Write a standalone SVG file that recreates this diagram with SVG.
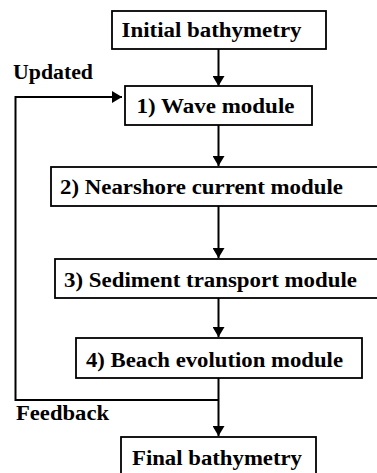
<svg xmlns="http://www.w3.org/2000/svg" width="377" height="473" viewBox="0 0 377 473">
<style>
  .box { fill: #fff; stroke: #000; stroke-width: 1.8; }
  .t { font-family: "Liberation Serif", "Times New Roman", serif; font-weight: bold; font-size: 20px; fill: #000; }
  .c { fill: none; stroke: #000; stroke-width: 2; }
</style>
<defs>
  <marker id="ah" markerWidth="10" markerHeight="12" refX="10" refY="6" orient="auto" markerUnits="userSpaceOnUse">
    <path d="M0,0 L10,6 L0,12 Z" fill="#000"/>
  </marker>
</defs>
<g id="connectors">
  <line class="c" x1="218.5" y1="49" x2="218.5" y2="86" marker-end="url(#ah)"/>
  <line class="c" x1="218.5" y1="125" x2="218.5" y2="166" marker-end="url(#ah)"/>
  <line class="c" x1="218.5" y1="206" x2="218.5" y2="258" marker-end="url(#ah)"/>
  <line class="c" x1="218.5" y1="298" x2="218.5" y2="337" marker-end="url(#ah)"/>
  <line class="c" x1="218.5" y1="378" x2="218.5" y2="436" marker-end="url(#ah)"/>
  <polyline class="c" points="218.5,400 15.5,400 15.5,97 122,97" marker-end="url(#ah)"/>
</g>
<g id="initial">
  <rect class="box" x="112" y="11" width="214" height="38"/>
  <text class="t" x="121.5" y="37" textLength="180" lengthAdjust="spacingAndGlyphs">Initial bathymetry</text>
</g>
<g id="updated-label">
  <text class="t" x="13" y="79" textLength="80" lengthAdjust="spacingAndGlyphs">Updated</text>
</g>
<g id="wave">
  <rect class="box" x="125" y="86" width="187" height="39"/>
  <text class="t" x="136.5" y="113" textLength="158" lengthAdjust="spacingAndGlyphs">1) Wave module</text>
</g>
<g id="nearshore">
  <rect class="box" x="51" y="167" width="340" height="39"/>
  <text class="t" x="60" y="194" textLength="283" lengthAdjust="spacingAndGlyphs">2) Nearshore current module</text>
</g>
<g id="sediment">
  <rect class="box" x="55" y="259" width="340" height="39"/>
  <text class="t" x="64" y="287" textLength="293" lengthAdjust="spacingAndGlyphs">3) Sediment transport module</text>
</g>
<g id="beach">
  <rect class="box" x="76" y="338" width="286" height="40"/>
  <text class="t" x="86" y="367" textLength="257" lengthAdjust="spacingAndGlyphs">4) Beach evolution module</text>
</g>
<g id="feedback-label">
  <text class="t" x="16" y="420" textLength="93" lengthAdjust="spacingAndGlyphs">Feedback</text>
</g>
<g id="final">
  <rect class="box" x="121" y="437" width="195" height="40"/>
  <text class="t" x="132" y="465" textLength="170" lengthAdjust="spacingAndGlyphs">Final bathymetry</text>
</g>
</svg>
